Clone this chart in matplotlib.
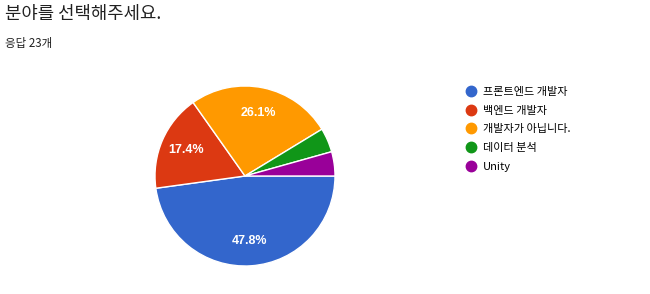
import matplotlib
matplotlib.use("Agg")
import matplotlib.pyplot as plt
from matplotlib.lines import Line2D

plt.rcParams['font.family'] = ['Noto Sans CJK KR', 'DejaVu Sans']

# ======================
# DATA
# ======================
title = "분야를 선택해주세요."
subtitle = "응답 23개"
categories = ["프론트엔드 개발자", "백엔드 개발자", "개발자가 아닙니다.", "데이터 분석", "Unity"]
counts = [11, 4, 6, 1, 1]
colors = ["#3366cc", "#dc3912", "#ff9900", "#109618", "#990099"]

# ======================
# FIGURE
# ======================
fig = plt.figure(figsize=(6.5, 2.94), dpi=100)
fig.text(5 / 650, 1 - 14 / 294, title, fontsize=12.8, va="center", ha="left", color="#212121")
fig.text(5 / 650, 1 - 43 / 294, subtitle, fontsize=8.3, va="center", ha="left", color="#212121")

ax = fig.add_axes([155 / 650, 28 / 294, 180 / 650, 180 / 294])


def pct_label(p):
    return f"{p:.1f}%" if p > 10 else ""


wedges, texts, autotexts = ax.pie(
    counts, colors=colors, startangle=0, counterclock=False,
    autopct=pct_label, pctdistance=0.72,
    wedgeprops=dict(edgecolor="white", linewidth=1),
    textprops=dict(color="white", fontsize=9, fontweight="bold",
                   family=["Liberation Sans", "DejaVu Sans"]),
)
ax.set_xlim(-1.0, 1.0)
ax.set_ylim(-1.0, 1.0)
ax.set_aspect("equal")

# ======================
# LEGEND
# ======================
handles = [Line2D([0], [0], marker="o", linestyle="none", markersize=7.5,
                  markerfacecolor=c, markeredgecolor=c) for c in colors]
fig.legend(handles, categories, loc="upper left",
           bbox_to_anchor=(465 / 650, 1 - 87 / 294), frameon=False,
           fontsize=8, handletextpad=0.6, labelspacing=0.78,
           handlelength=1.0, borderaxespad=0, borderpad=0)

fig.savefig("out.png", dpi=100)
